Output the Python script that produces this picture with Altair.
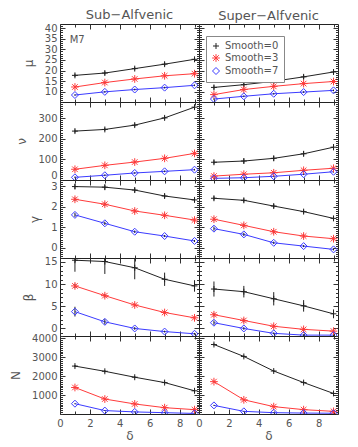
import altair as alt
import pandas as pd
import numpy as np

delta = [1, 3, 5, 7, 9]
series_names = ["Smooth=0", "Smooth=3", "Smooth=7"]
series_colors = ["#222222", "#ff3b3b", "#3b3bff"]
col_titles = ["Sub\u2212Alfvenic", "Super\u2212Alfvenic"]

# ---- mu ----
mu_sub_s0 = [17.7, 18.8, 20.9, 23.0, 25.3]
mu_sub_s3 = [12.2, 14.3, 16.0, 17.5, 18.5]
mu_sub_s7 = [8.4, 9.9, 11.0, 11.9, 13.0]
mu_sup_s0 = [12.0, 13.3, 14.9, 17.0, 19.3]
mu_sup_s3 = [8.6, 11.0, 12.5, 13.8, 14.8]
mu_sup_s7 = [6.5, 7.8, 9.0, 9.8, 10.6]
mu_sub_e0 = [0.8, 0.8, 0.8, 0.9, 0.9]
mu_sub_e3 = [0.5, 0.5, 0.5, 0.5, 0.5]
mu_sub_e7 = [0.4, 0.4, 0.4, 0.4, 0.4]
mu_sup_e0 = [1.0, 1.0, 1.0, 1.0, 1.1]
mu_sup_e3 = [0.5, 0.5, 0.5, 0.5, 0.5]
mu_sup_e7 = [0.4, 0.4, 0.4, 0.4, 0.4]

# ---- nu ----
nu_sub_s0 = [237, 245, 266, 301, 353]
nu_sub_s3 = [52, 71, 87, 105, 129]
nu_sub_s7 = [13, 23, 34, 42, 50]
nu_sup_s0 = [86, 92, 105, 127, 159]
nu_sup_s3 = [19, 28, 35, 47, 57]
nu_sup_s7 = [8, 11, 18, 28, 40]
nu_sub_e0 = [8, 8, 8, 9, 10]
nu_sub_e3 = [5, 5, 5, 6, 6]
nu_sub_e7 = [4, 4, 4, 4, 4]
nu_sup_e0 = [10, 12, 12, 12, 15]
nu_sup_e3 = [5, 5, 5, 5, 5]
nu_sup_e7 = [4, 4, 4, 4, 4]

# ---- gamma ----
ga_sub_s0 = [2.98, 2.95, 2.81, 2.52, 2.33]
ga_sub_s3 = [2.36, 2.12, 1.79, 1.58, 1.35]
ga_sub_s7 = [1.60, 1.19, 0.78, 0.57, 0.33]
ga_sup_s0 = [2.41, 2.31, 2.03, 1.76, 1.43]
ga_sup_s3 = [1.39, 1.09, 0.78, 0.57, 0.44]
ga_sup_s7 = [0.93, 0.65, 0.24, 0.08, -0.08]
ga_sub_e0 = [0.12, 0.12, 0.12, 0.10, 0.10]
ga_sub_e3 = [0.08, 0.08, 0.08, 0.08, 0.08]
ga_sub_e7 = [0.10, 0.08, 0.06, 0.05, 0.05]
ga_sup_e0 = [0.10, 0.10, 0.10, 0.10, 0.10]
ga_sup_e3 = [0.08, 0.08, 0.08, 0.08, 0.08]
ga_sup_e7 = [0.10, 0.08, 0.06, 0.05, 0.05]

# ---- beta ----
be_sub_s0 = [15.4, 15.1, 13.7, 11.1, 9.6]
be_sub_s3 = [9.6, 7.4, 5.3, 3.6, 2.4]
be_sub_s7 = [3.8, 1.5, 0.0, -0.7, -1.2]
be_sup_s0 = [8.9, 8.3, 6.7, 5.1, 3.3]
be_sup_s3 = [3.1, 1.8, 0.5, -0.2, -0.6]
be_sup_s7 = [1.3, 0.0, -1.1, -1.5, -1.5]
be_sub_e0 = [2.6, 2.8, 2.6, 1.5, 1.3]
be_sub_e3 = [0.5, 0.4, 0.3, 0.3, 0.3]
be_sub_e7 = [1.1, 0.6, 0.3, 0.2, 0.2]
be_sup_e0 = [1.7, 1.3, 1.5, 1.3, 1.0]
be_sup_e3 = [0.4, 0.4, 0.3, 0.3, 0.3]
be_sup_e7 = [0.5, 0.3, 0.2, 0.2, 0.2]

# ---- N ----
n_sub_s0 = [2530, 2256, 1942, 1660, 1225]
n_sub_s3 = [1400, 790, 530, 335, 230]
n_sub_s7 = [545, 180, 110, 70, 30]
n_sup_s0 = [3670, 3040, 2270, 1660, 1085]
n_sup_s3 = [1710, 750, 390, 230, 140]
n_sup_s7 = [455, 140, 70, 50, 40]
n_sub_e0 = [60, 60, 60, 60, 60]
n_sub_e3 = [50, 40, 30, 30, 30]
n_sub_e7 = [30, 20, 20, 20, 20]
n_sup_e0 = [60, 60, 60, 60, 60]
n_sup_e3 = [50, 40, 30, 30, 30]
n_sup_e7 = [30, 20, 20, 20, 20]

params = ["mu", "nu", "gamma", "beta", "N"]
y_titles = {"mu": "\u03bc", "nu": "\u03bd", "gamma": "\u03b3", "beta": "\u03b2", "N": "N"}
y_domains = {"mu": [5.1, 42], "nu": [0, 378], "gamma": [-0.5, 3.3],
             "beta": [-1.7, 15.9], "N": [0, 4120]}
y_major = {"mu": [10, 15, 20, 25, 30, 35, 40], "nu": [0, 100, 200, 300],
           "gamma": [0, 1, 2, 3], "beta": [0, 5, 10, 15], "N": [1000, 2000, 3000, 4000]}
y_minor_step = {"mu": 1, "nu": 10, "gamma": 0.1, "beta": 1, "N": 100}
x_major = [0, 2, 4, 6, 8]
x_minor = [1, 3, 5, 7, 9]
note_x = [0.65]
note_y = [34.5]
note_text = ["M7"]

table = {
    ("mu", "sub"): ([mu_sub_s0, mu_sub_s3, mu_sub_s7], [mu_sub_e0, mu_sub_e3, mu_sub_e7]),
    ("mu", "sup"): ([mu_sup_s0, mu_sup_s3, mu_sup_s7], [mu_sup_e0, mu_sup_e3, mu_sup_e7]),
    ("nu", "sub"): ([nu_sub_s0, nu_sub_s3, nu_sub_s7], [nu_sub_e0, nu_sub_e3, nu_sub_e7]),
    ("nu", "sup"): ([nu_sup_s0, nu_sup_s3, nu_sup_s7], [nu_sup_e0, nu_sup_e3, nu_sup_e7]),
    ("gamma", "sub"): ([ga_sub_s0, ga_sub_s3, ga_sub_s7], [ga_sub_e0, ga_sub_e3, ga_sub_e7]),
    ("gamma", "sup"): ([ga_sup_s0, ga_sup_s3, ga_sup_s7], [ga_sup_e0, ga_sup_e3, ga_sup_e7]),
    ("beta", "sub"): ([be_sub_s0, be_sub_s3, be_sub_s7], [be_sub_e0, be_sub_e3, be_sub_e7]),
    ("beta", "sup"): ([be_sup_s0, be_sup_s3, be_sup_s7], [be_sup_e0, be_sup_e3, be_sup_e7]),
    ("N", "sub"): ([n_sub_s0, n_sub_s3, n_sub_s7], [n_sub_e0, n_sub_e3, n_sub_e7]),
    ("N", "sup"): ([n_sup_s0, n_sup_s3, n_sup_s7], [n_sup_e0, n_sup_e3, n_sup_e7]),
}

rows = []
for (p, r), (vals, errs) in table.items():
    for s, v, e in zip(series_names, vals, errs):
        for d, vv, ee in zip(delta, v, e):
            rows.append(dict(param=p, regime=r, series=s, delta=d,
                             value=vv, lo=vv - ee, hi=vv + ee))
df = pd.DataFrame(rows)

W, H = 139, 78
GRAY = "#555555"
FONT = "DejaVu Sans"

PLUS = "M-0.85,0H0.85M0,-0.85V0.85"
STAR = "M-1.1,0H1.1M0,-1.1V1.1M-0.8,-0.8L0.8,0.8M-0.8,0.8L0.8,-0.8"
cscale = alt.Scale(domain=series_names, range=series_colors)
sscale = alt.Scale(domain=series_names, range=[PLUS, STAR, "diamond"])
leg = alt.Legend(orient="none", legendX=W + 7, legendY=12, title=None,
                 fillColor="white", strokeColor="#888888", padding=5,
                 labelFontSize=10, labelColor=GRAY, labelFont=FONT,
                 symbolSize=49, symbolStrokeWidth=1, rowPadding=1, labelOffset=4)


def minor_vals(p):
    lo, hi = y_domains[p]
    step = y_minor_step[p]
    vals = np.arange(np.ceil(lo / step) * step, hi, step)
    vals = [round(float(v), 3) for v in vals]
    return [v for v in vals if all(abs(v - m) > 1e-6 for m in y_major[p])]


def tick_axis(orient, values, size, offset):
    return alt.Axis(orient=orient, offset=offset, values=values, tickSize=size,
                    labels=False, domain=False, title=None, ticks=True,
                    grid=False, tickColor="#333333", tickWidth=1)


def panel(p, r, is_left, is_bottom, title=None):
    d = df[(df.param == p) & (df.regime == r)]
    base = alt.Chart(d)
    xs = alt.Scale(domain=[0, 9.3], nice=False, zero=False)
    ys = alt.Scale(domain=y_domains[p], nice=False, zero=False)
    if is_bottom:
        xax = alt.Axis(values=x_major, title="\u03b4", labelFlush=False, ticks=False,
                       tickSize=0, domain=False, labelPadding=4, titlePadding=2,
                       titleFontSize=12, format="d")
    else:
        xax = None
    if is_left:
        yax = alt.Axis(values=y_major[p], title=y_titles[p], ticks=False, tickSize=0,
                       domain=False, labelPadding=3, titlePadding=9, labelFlush=True,
                       format="d")
    else:
        yax = None
    ymin = minor_vals(p)
    layers = []
    for k, (s, c) in enumerate(zip(series_names, series_colors)):
        layers.append(
            base.transform_filter(alt.datum.series == s).mark_line(
                strokeWidth=1, clip=True, color=c).encode(
                x=alt.X("delta:Q", scale=xs, axis=xax if k == 0 else None),
                y=alt.Y("value:Q", scale=ys, axis=yax if k == 0 else None),
            )
        )
    errs = base.mark_rule(color="#222222", strokeWidth=1, clip=True).encode(
        x=alt.X("delta:Q", scale=xs, axis=tick_axis("top", x_major, 5, -H)),
        y=alt.Y("lo:Q", scale=ys, axis=tick_axis("right", y_major[p], 5, -W)),
        y2="hi:Q",
    )
    pts = base.mark_point(filled=False, size=49, strokeWidth=1, clip=True, opacity=1).encode(
        x=alt.X("delta:Q", scale=xs, axis=tick_axis("bottom", x_major, 5, -H)),
        y=alt.Y("value:Q", scale=ys, axis=tick_axis("left", y_major[p], 5, -W)),
        color=alt.Color("series:N", scale=cscale, legend=leg),
        shape=alt.Shape("series:N", scale=sscale, legend=leg),
    )
    minor_a = base.mark_point(opacity=0).encode(
        x=alt.X("delta:Q", scale=xs, axis=tick_axis("top", x_minor, 3, -H)),
        y=alt.Y("value:Q", scale=ys, axis=tick_axis("right", ymin, 2.5, -W)),
    )
    minor_b = base.mark_point(opacity=0).encode(
        x=alt.X("delta:Q", scale=xs, axis=tick_axis("bottom", x_minor, 3, -H)),
        y=alt.Y("value:Q", scale=ys, axis=tick_axis("left", ymin, 2.5, -W)),
    )
    layers += [errs, pts, minor_a, minor_b]
    if p == "mu" and r == "sub":
        nd = pd.DataFrame({"x": note_x, "y": note_y, "t": note_text})
        layers.append(
            alt.Chart(nd).mark_text(align="left", baseline="middle", fontSize=10,
                                    color=GRAY, font=FONT).encode(
                x=alt.X("x:Q", scale=xs, axis=None),
                y=alt.Y("y:Q", scale=ys, axis=None),
                text="t:N",
            )
        )
    ch = alt.layer(*layers).resolve_axis(x="independent", y="independent").properties(
        width=W, height=H)
    if title:
        ch = ch.properties(title=alt.TitleParams(title, fontSize=13, fontWeight="normal",
                                                 color=GRAY, font=FONT, offset=1,
                                                 anchor="middle"))
    return ch


panels = []
for i, p in enumerate(params):
    for j, r in enumerate(["sub", "sup"]):
        panels.append(panel(p, r, j == 0, i == len(params) - 1,
                            col_titles[j] if i == 0 else None))

chart = alt.concat(*panels, columns=2, spacing=0, bounds="flush").properties(
    padding={"left": 1, "top": 0, "right": 5, "bottom": 1}
).configure_view(stroke="#222222", strokeWidth=1).configure_axis(
    grid=False, labelFont=FONT, labelFontSize=10, labelColor=GRAY,
    titleFont=FONT, titleFontSize=12, titleFontWeight="normal", titleColor=GRAY,
    labelOverlap=False,
)

chart.save("out.html", embed_options={"renderer": "svg", "actions": False})
